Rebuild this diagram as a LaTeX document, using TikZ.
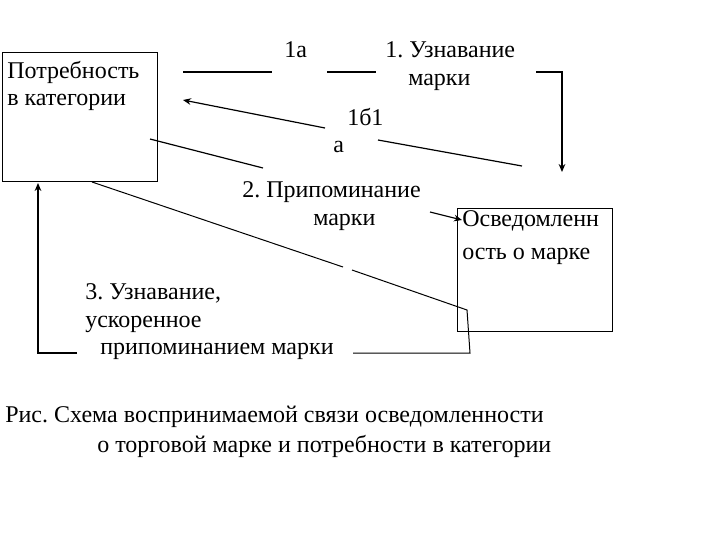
\documentclass[tikz,border=0pt]{standalone}
\usepackage{fontspec}
\setmainfont{Liberation Serif}
\usetikzlibrary{arrows.meta}
\frenchspacing
\begin{document}
\begin{tikzpicture}[x=0.75pt,y=-0.75pt,
  t/.style={anchor=base west,inner sep=0pt,font=\fontsize{18pt}{21pt}\selectfont},
  ln/.style={line width=0.9pt},
  thin/.style={line width=0.75pt,black},
  arr/.style={-{Stealth[length=6pt,width=5pt]}}]
\useasboundingbox (0,0) rectangle (720,540);
\node[draw,thin,minimum width=155*0.75pt,minimum height=129*0.75pt,anchor=north west,inner sep=0pt] (b1) at (2,52) {};
\node[draw,thin,minimum width=155*0.75pt,minimum height=123*0.75pt,anchor=north west,inner sep=0pt] (b2) at (457,208) {};
\node[t] (b1a) at (7,78) {Потребность};
\node[t] (b1b) at (7,105) {в категории};
\node[t] (b2a) at (462,226) {Осведомленн};
\node[t] (b2b) at (462,259) {ость о марке};
\node[t] (l1a) at (284,57) {1а};
\node[t] (l1) at (385,57) {1. Узнавание};
\node[t] (l1m) at (408,85) {марки};
\node[t] (l1b) at (347,125) {1б1};
\node[t] (l1c) at (333,152) {а};
\node[t] (l2) at (242,197) {2. Припоминание};
\node[t] (l2m) at (313,225) {марки};
\node[t] (l3) at (85,299) {3. Узнавание,};
\node[t] (l3b) at (85,327) {ускоренное};
\node[t] (l3c) at (100,354) {припоминанием марки};
\node[t] (c1) at (5,422) {Рис. Схема воспринимаемой связи осведомленности};
\node[t] (c2) at (97,452) {о торговой марке и потребности в категории};
\coordinate (a1) at (183,72); \coordinate (a2) at (272,72);
\coordinate (a3) at (327,72); \coordinate (a4) at (376,72);
\coordinate (a5) at (536,72); \coordinate (a6) at (562,72); \coordinate (a7) at (562,172);
\draw[ln] (a1) -- (a2);
\draw[ln] (a3) -- (a4);
\draw[ln,arr] (a5) -- (a6) -- (a7);
\coordinate (p1) at (325,128); \coordinate (p2) at (183,100);
\draw[ln,arr] (p1) -- (p2);
\coordinate (q1) at (378,140); \coordinate (q2) at (522,166);
\draw[ln] (q1) -- (q2);
\coordinate (r1) at (150,139); \coordinate (r2) at (263,168);
\draw[ln] (r1) -- (r2);
\coordinate (s1) at (430,212); \coordinate (s2) at (462,220);
\draw[ln,arr] (s1) -- (s2);
\coordinate (u1) at (92,182); \coordinate (u2) at (343,267);
\coordinate (u3) at (352,270); \coordinate (u4) at (467,310);
\coordinate (u5) at (470,353); \coordinate (u6) at (353,353);
\draw[thin] (u1) -- (u2);
\draw[thin] (u3) -- (u4) -- (u5) -- (u6);
\coordinate (v1) at (77,353); \coordinate (v2) at (38,353); \coordinate (v3) at (38,183);
\draw[ln,arr] (v1) -- (v2) -- (v3);
\end{tikzpicture}
\end{document}
